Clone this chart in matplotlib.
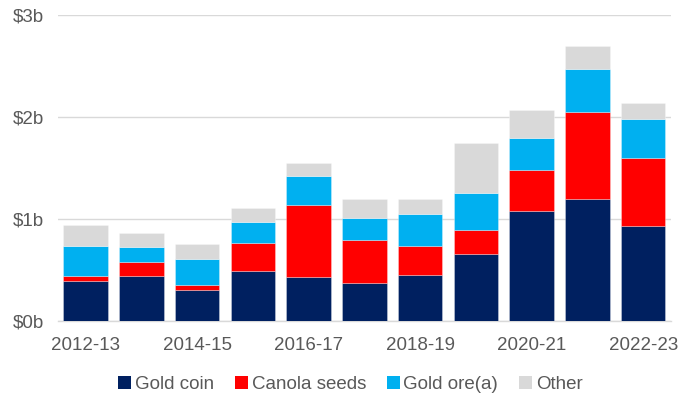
import matplotlib
matplotlib.use("Agg")
import matplotlib.pyplot as plt
from matplotlib.patches import Patch
import numpy as np

years = ["2012-13", "2013-14", "2014-15", "2015-16", "2016-17", "2017-18",
         "2018-19", "2019-20", "2020-21", "2021-22", "2022-23"]
gold_coin = [0.39, 0.44, 0.30, 0.49, 0.43, 0.37, 0.45, 0.65, 1.08, 1.19, 0.93]
canola = [0.05, 0.14, 0.05, 0.27, 0.71, 0.42, 0.28, 0.24, 0.40, 0.86, 0.67]
gold_ore = [0.29, 0.14, 0.26, 0.21, 0.28, 0.22, 0.32, 0.36, 0.31, 0.42, 0.38]
other = [0.21, 0.14, 0.14, 0.14, 0.13, 0.18, 0.14, 0.49, 0.28, 0.23, 0.16]
series_names = ["Gold coin", "Canola seeds", "Gold ore(a)", "Other"]
colors = ["#002060", "#FF0000", "#00B0F0", "#D9D9D9"]
ytick_vals = [0, 1, 2, 3]
ytick_labels = ["$0b", "$1b", "$2b", "$3b"]

plt.rcParams['font.family'] = ['Liberation Sans', 'DejaVu Sans']
fig = plt.figure(figsize=(6.8, 3.94), dpi=100)
ax = fig.add_axes([0.0849, 0.186, 0.9019, 0.776])

x = np.arange(len(years))
bottom = np.zeros(len(years))
for vals, c, name in zip([gold_coin, canola, gold_ore, other], colors, series_names):
    ax.bar(x, vals, bottom=bottom, width=0.8, color=c, edgecolor=(1, 1, 1, 0.35),
           linewidth=0.6, zorder=3, label=name)
    bottom += np.array(vals)

ax.set_xlim(-0.5, len(years) - 0.5)
ax.set_ylim(0, 3)
ax.set_yticks(ytick_vals)
ax.set_yticklabels(ytick_labels)
ax.set_xticks(x[::2])
ax.set_xticklabels(years[::2])
ax.yaxis.grid(True, color="#D9D9D9", linewidth=1.0, zorder=0)
ax.set_axisbelow(True)
for s in ["top", "right", "left"]:
    ax.spines[s].set_visible(False)
ax.spines["bottom"].set_color("#D9D9D9")
ax.spines["bottom"].set_linewidth(1.0)
ax.tick_params(axis="both", length=0, labelsize=13.5, labelcolor="#595959")
ax.tick_params(axis="y", pad=10)
ax.tick_params(axis="x", pad=12)

handles = [Patch(facecolor=c, edgecolor="none") for c in colors]
fig.legend(handles, series_names, loc="center", bbox_to_anchor=(0.515, 0.024),
           ncol=4, frameon=False, fontsize=13.5, labelcolor="#595959",
           handlelength=0.7, handleheight=0.7, handletextpad=0.2,
           columnspacing=1.1, borderaxespad=0)

fig.savefig("out.png", dpi=100)
